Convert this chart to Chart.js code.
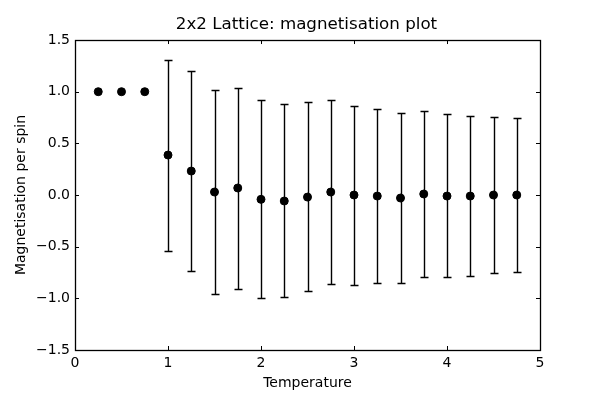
<!DOCTYPE html>
<html>
<head>
<meta charset="utf-8">
<script src="https://cdn.jsdelivr.net/npm/chart.js@4"></script>
<style>
  html, body { margin: 0; padding: 0; background: #fff; }
  #wrap { width: 600px; height: 400px; }
</style>
</head>
<body>
<div id="wrap"><canvas id="magChart" width="600" height="400"></canvas></div>
<script>
// temperatures and mean magnetisation per spin, with error bar ends
const temps = [0.25, 0.5, 0.75, 1.0, 1.25, 1.5, 1.75, 2.0, 2.25, 2.5, 2.75, 3.0, 3.25, 3.5, 3.75, 4.0, 4.25, 4.5, 4.75];
const magnet = [1.0, 1.0, 1.0, 0.387, 0.232, 0.029, 0.068, -0.042, -0.058, -0.02, 0.029, 0.0, -0.01, -0.029, 0.01, -0.01, -0.01, 0.0, 0.0];
const errHigh = [1.0, 1.0, 1.0, 1.306, 1.197, 1.013, 1.035, 0.916, 0.877, 0.903, 0.919, 0.861, 0.832, 0.797, 0.816, 0.784, 0.768, 0.755, 0.745];
const errLow = [1.0, 1.0, 1.0, -0.539, -0.732, -0.958, -0.906, -0.997, -0.987, -0.926, -0.858, -0.871, -0.852, -0.852, -0.794, -0.794, -0.784, -0.755, -0.742];
const xTicks = [0, 1, 2, 3, 4, 5];
const yTicks = [-1.5, -1.0, -0.5, 0.0, 0.5, 1.0, 1.5];

const points = temps.map((t, i) => ({ x: t, y: magnet[i] }));

// error bars, frame and inward ticks like matplotlib
const errorBars = {
    id: 'errorBars',
    beforeDatasetsDraw(chart) {
        const c = chart.ctx;
        const xs = chart.scales.x, ys = chart.scales.y;
        c.save();
        c.strokeStyle = '#000';
        c.lineWidth = 1.4;
        temps.forEach((t, i) => {
            if (errHigh[i] === errLow[i]) return;
            const px = Math.round(xs.getPixelForValue(t)) + 0.5;
            const top = Math.round(ys.getPixelForValue(errHigh[i])) + 0.5;
            const bot = Math.round(ys.getPixelForValue(errLow[i])) + 0.5;
            c.beginPath();
            c.moveTo(px, top); c.lineTo(px, bot);
            c.moveTo(px - 4, top); c.lineTo(px + 4, top);
            c.moveTo(px - 4, bot); c.lineTo(px + 4, bot);
            c.stroke();
        });
        c.restore();
    },
    afterDraw(chart) {
        const c = chart.ctx;
        const a = chart.chartArea;
        const xs = chart.scales.x, ys = chart.scales.y;
        c.save();
        c.strokeStyle = '#000';
        c.lineWidth = 1;
        c.beginPath();
        xTicks.forEach(v => {
            const px = Math.round(xs.getPixelForValue(v)) + 0.5;
            c.moveTo(px, a.bottom); c.lineTo(px, a.bottom - 4);
            c.moveTo(px, a.top); c.lineTo(px, a.top + 4);
        });
        yTicks.forEach(v => {
            const py = Math.round(ys.getPixelForValue(v)) + 0.5;
            c.moveTo(a.left, py); c.lineTo(a.left + 4, py);
            c.moveTo(a.right, py); c.lineTo(a.right - 4, py);
        });
        c.stroke();
        c.lineWidth = 1.3;
        c.strokeRect(Math.round(a.left) + 0.5, Math.round(a.top) + 0.5, Math.round(a.right - a.left), Math.round(a.bottom - a.top));
        c.restore();
    }
};

const ctx = document.getElementById('magChart');

var magChart = new Chart(ctx, {
    type: 'scatter',
    data: {
        datasets: [{
            label: 'Magnetisation',
            data: points,
            backgroundColor: '#000',
            borderColor: '#000',
            borderWidth: 1,
            pointRadius: 4,
            pointHoverRadius: 4
        }]
    },
    options: {
        responsive: false,
        animation: false,
        layout: { padding: { left: 13, right: 0, top: 0, bottom: 8 } },
        plugins: {
            legend: { display: false },
            tooltip: { enabled: false },
            title: {
                display: true,
                text: '2x2 Lattice: magnetisation plot',
                color: '#000',
                font: { family: 'DejaVu Sans', size: 16.7, weight: 'normal' },
                padding: { top: 15, bottom: 5 }
            }
        },
        scales: {
            x: {
                type: 'linear',
                min: 0, max: 5,
                afterBuildTicks(axis) { axis.ticks = xTicks.map(v => ({ value: v })); },
                afterFit(axis) { axis.height = 42; },
                grid: { display: false, drawTicks: false },
                border: { display: false },
                ticks: {
                    color: '#000',
                    font: { family: 'DejaVu Sans', size: 14 },
                    padding: 5,
                    maxRotation: 0,
                    callback: v => v.toString()
                },
                title: {
                    display: true,
                    text: 'Temperature',
                    color: '#000',
                    font: { family: 'DejaVu Sans', size: 14 },
                    padding: { top: 3, bottom: 0 }
                }
            },
            y: {
                min: -1.5, max: 1.5,
                afterBuildTicks(axis) { axis.ticks = yTicks.map(v => ({ value: v })); },
                afterFit(axis) { axis.width = 62; },
                grid: { display: false, drawTicks: false },
                border: { display: false },
                ticks: {
                    color: '#000',
                    font: { family: 'DejaVu Sans', size: 14 },
                    padding: 5,
                    callback: v => (v < 0 ? '\u2212' : '') + Math.abs(v).toFixed(1)
                },
                title: {
                    display: true,
                    text: 'Magnetisation per spin',
                    color: '#000',
                    font: { family: 'DejaVu Sans', size: 14 },
                    padding: { top: 0, bottom: 0 }
                }
            },
            // empty right axis, only to reserve the right margin
            yRight: {
                position: 'right',
                min: -1.5, max: 1.5,
                afterFit(axis) { axis.width = 60; },
                grid: { display: false, drawTicks: false },
                border: { display: false },
                ticks: { display: false }
            }
        }
    },
    plugins: [errorBars]
});
</script>
</body>
</html>
